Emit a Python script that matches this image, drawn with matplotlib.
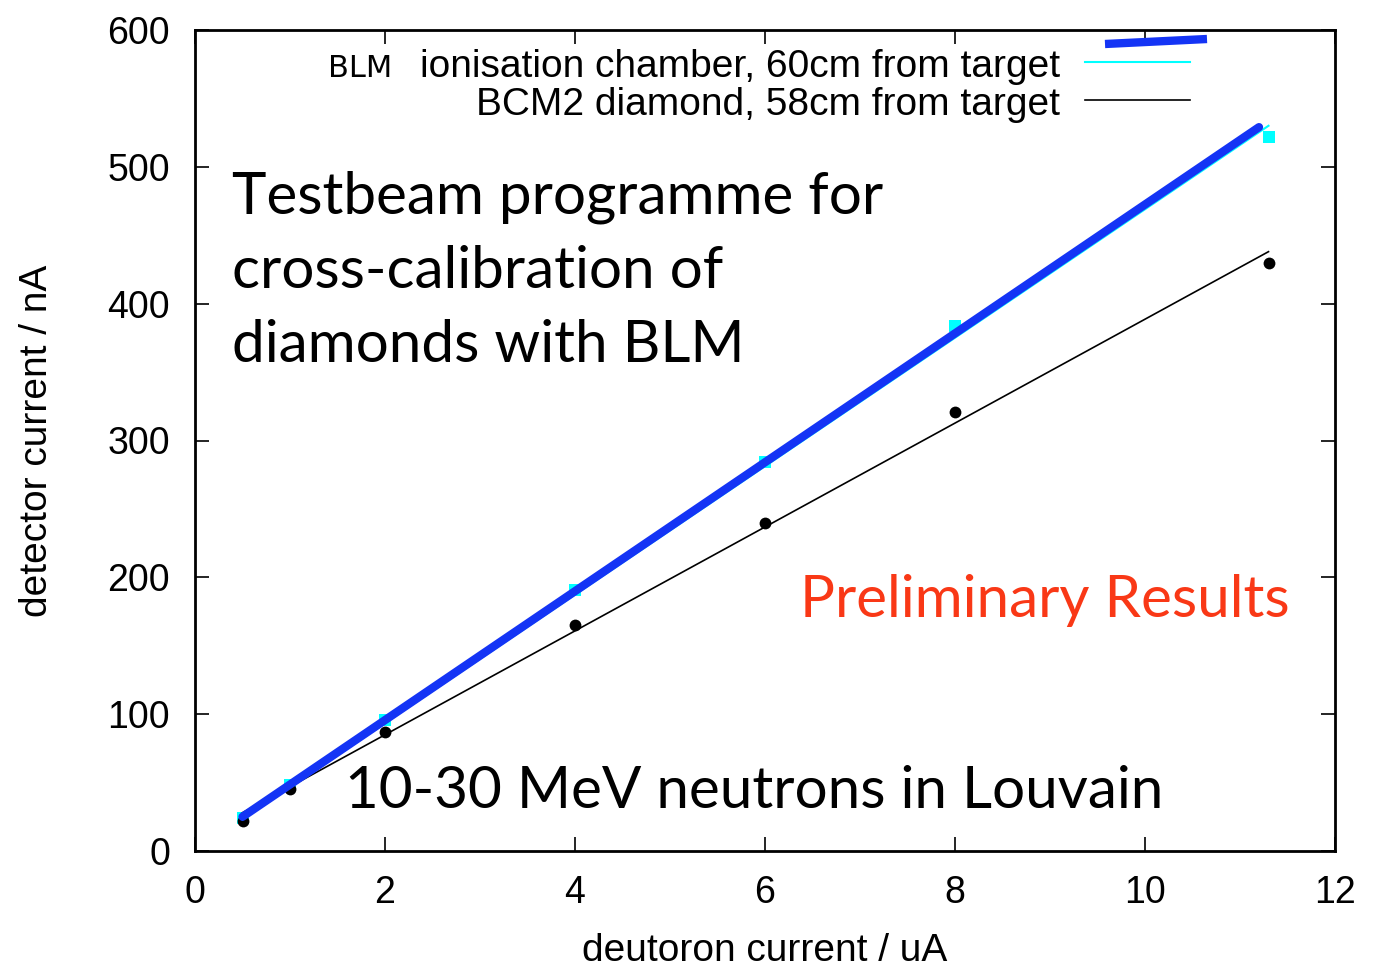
import numpy as np
import matplotlib
matplotlib.use("Agg")
import matplotlib.pyplot as plt
from matplotlib.lines import Line2D

# deuteron beam current (uA) and detector currents (nA)
beam = [0.5, 1, 2, 4, 6, 8, 11.3]
blm_current = [24, 48, 96, 191, 284, 384, 522]
bcm2_current = [22, 45, 87, 165, 240, 321, 430]

# fitted straight lines (end points)
fit_x = [0.5, 11.3]
blm_fit = [23, 530]
bcm2_fit = [28, 438]
blm_fit_hl = [25, 529]      # highlighted BLM fit
blm_fit_hl_x = [0.5, 11.2]

xticks = [0, 2, 4, 6, 8, 10, 12]
yticks = [0, 100, 200, 300, 400, 500, 600]

W, H = 1381, 968
fig = plt.figure(figsize=(W / 100, H / 100), dpi=100)
ax = fig.add_axes([195 / W, 1 - 851 / H, (1335 - 195) / W, (851 - 30) / H])

def fx(px):
    return px / W

def fy(py):
    return 1 - py / H

axfont = "Liberation Sans"
blue = "#1434f5"
cyan = "#00ffff"
red = "#f93816"

ax.plot(beam, blm_current, "s", color=cyan, ms=9, mew=0, zorder=2)
ax.plot(beam, bcm2_current, "o", color="black", ms=8.5, mew=0, zorder=2)
ax.plot(fit_x, blm_fit, color=cyan, lw=1.5, zorder=3)
ax.plot(fit_x, bcm2_fit, color="black", lw=1.2, zorder=3)
ax.plot(blm_fit_hl_x, blm_fit_hl, color=blue, lw=6, solid_capstyle="round", zorder=4)

ax.set_xlim(0, 12)
ax.set_ylim(0, 600)
ax.set_xticks(xticks)
ax.set_yticks(yticks)
ax.tick_params(direction="in", length=10, width=1.2, top=True, right=True,
               labelsize=27)
ax.tick_params(axis="x", pad=17)
ax.tick_params(axis="y", pad=18)
for lab in ax.get_xticklabels() + ax.get_yticklabels():
    lab.set_fontfamily(axfont)
for s in ax.spines.values():
    s.set_linewidth(2)

ax.set_xlabel("deutoron current / uA", fontsize=28, family=axfont, labelpad=16)
ax.set_ylabel("detector current / nA", fontsize=28, family=axfont, labelpad=38)

# key, right aligned text with sample lines
fig.text(fx(1060), fy(77), "ionisation chamber, 60cm from target",
         ha="right", va="baseline", fontsize=28, family=axfont)
fig.text(fx(1060), fy(115), "BCM2 diamond, 58cm from target",
         ha="right", va="baseline", fontsize=28, family=axfont)
fig.text(fx(328), fy(77), "BLM", ha="left", va="baseline", fontsize=22,
         family="DejaVu Sans")
fig.add_artist(Line2D([fx(1085), fx(1190)], [fy(62), fy(62)], color=cyan, lw=1.5))
fig.add_artist(Line2D([fx(1085), fx(1190)], [fy(100), fy(100)], color="black", lw=1.2))
fig.add_artist(Line2D([fx(1105), fx(1207)], [fy(44), fy(39)], color=blue, lw=6,
                      solid_capstyle="butt"))

# annotations
big = dict(fontsize=42, family="Lato", va="baseline", ha="left")
fig.text(fx(232), fy(213), "Testbeam programme for", **big)
fig.text(fx(232), fy(288), "cross-calibration of", **big)
fig.text(fx(232), fy(362), "diamonds with BLM", **big)
fig.text(fx(345), fy(808), "10-30 MeV neutrons in Louvain", **big)
fig.text(fx(800), fy(617), "Preliminary Results", color=red, **big)

fig.savefig("out.png", dpi=100)
